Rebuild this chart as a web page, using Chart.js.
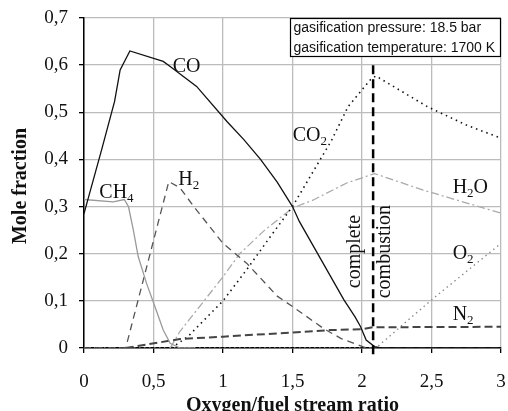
<!DOCTYPE html>
<html>
<head>
<meta charset="utf-8">
<script src="https://cdn.jsdelivr.net/npm/chart.js@4/dist/chart.umd.min.js"></script>
<style>
  html, body { margin: 0; padding: 0; background: #fff; }
</style>
</head>
<body>
<canvas id="myChart" width="508" height="411"></canvas>
<script>
// x = oxygen/fuel stream ratio, y = mole fraction
const coX = [0, 0.13, 0.22, 0.26, 0.33, 0.57, 0.62, 0.81, 1.03, 1.15, 1.27, 1.39, 1.5, 1.55, 1.87, 1.95, 1.99, 2.03, 2.09, 2.14, 3];
const coY = [0.285, 0.424, 0.523, 0.59, 0.63, 0.608, 0.597, 0.555, 0.48, 0.442, 0.40, 0.352, 0.30, 0.268, 0.102, 0.066, 0.045, 0.017, 0.003, 0, 0];

const ch4X = [0, 0.21, 0.29, 0.32, 0.355, 0.39, 0.45, 0.51, 0.57, 0.62, 0.69, 0.8];
const ch4Y = [0.315, 0.31, 0.315, 0.30, 0.25, 0.194, 0.137, 0.088, 0.038, 0.01, 0, 0];

const h2X = [0, 0.3, 0.61, 0.69, 0.79, 1.0, 1.17, 1.39, 1.5, 1.72, 1.85, 2.03, 3];
const h2Y = [0, 0, 0.353, 0.34, 0.30, 0.222, 0.18, 0.11, 0.088, 0.042, 0.02, 0, 0];

const n2X = [0.3, 0.69, 1.0, 1.5, 1.77, 2.0, 2.08, 3];
const n2Y = [0, 0.019, 0.024, 0.033, 0.038, 0.04, 0.044, 0.045];

const co2X = [0.63, 0.75, 0.85, 1.0, 1.17, 1.34, 1.5, 1.78, 1.9, 2.06, 2.1, 2.47, 2.75, 3];
const co2Y = [0, 0.025, 0.055, 0.10, 0.166, 0.236, 0.30, 0.44, 0.512, 0.569, 0.577, 0.512, 0.473, 0.445];

const h2oX = [0.62, 0.69, 1.0, 1.12, 1.3, 1.5, 1.65, 1.89, 2.09, 2.44, 3];
const h2oY = [0, 0.035, 0.151, 0.20, 0.25, 0.297, 0.314, 0.35, 0.37, 0.335, 0.286];

const o2X = [0, 2.1, 2.5, 2.75, 3];
const o2Y = [0, 0, 0.102, 0.162, 0.222];

// complete combustion marker
const combX = [2.08, 2.08];
const combY = [0.6, -0.018];

// tick values
const xTicks = [0, 0.5, 1, 1.5, 2, 2.5, 3];
const yTicks = [0, 0.1, 0.2, 0.3, 0.4, 0.5, 0.6, 0.7];

function pts(xs, ys) {
  return xs.map((x, i) => ({ x: x, y: ys[i] }));
}

function comma(v) {
  return String(Math.round(v * 10) / 10).replace(".", ",");
}

const serif = "'Liberation Serif', 'Times New Roman', serif";
const sans = "'Liberation Sans', Arial, sans-serif";

// curve labels: [main, subscript, tail, x, y]
const curveLabels = [
  ["CO", "", "", 0.638, 0.600],
  ["CH", "4", "", 0.110, 0.333],
  ["H", "2", "", 0.678, 0.361],
  ["CO", "2", "", 1.501, 0.455],
  ["H", "2", "O", 2.652, 0.344],
  ["O", "2", "", 2.652, 0.204],
  ["N", "2", "", 2.652, 0.074],
];

const textPlugin = {
  id: "texts",
  afterDraw(chart) {
    const c = chart.ctx;
    const xs = chart.scales.x;
    const ys = chart.scales.y;
    const area = chart.chartArea;
    c.save();
    c.fillStyle = "#111";
    c.textAlign = "left";
    c.textBaseline = "alphabetic";

    curveLabels.forEach(([a, sub, tail, x, y]) => {
      let px = xs.getPixelForValue(x);
      const py = ys.getPixelForValue(y) + 7;
      c.font = "20px " + serif;
      c.fillText(a, px, py);
      px += c.measureText(a).width;
      if (sub) {
        c.font = "13px " + serif;
        c.fillText(sub, px, py + 4);
        px += c.measureText(sub).width;
      }
      if (tail) {
        c.font = "20px " + serif;
        c.fillText(tail, px, py);
      }
    });

    // rotated notes beside the combustion line
    const cy = ys.getPixelForValue(0.2045);
    c.font = "20px " + serif;
    c.textAlign = "center";
    c.save();
    c.translate(xs.getPixelForValue(2.08) - 13, cy);
    c.rotate(-Math.PI / 2);
    c.fillText("complete", 0, 0);
    c.restore();
    c.save();
    c.translate(xs.getPixelForValue(2.08) + 17, cy);
    c.rotate(-Math.PI / 2);
    c.fillText("combustion", 0, 0);
    c.restore();

    // axis titles
    c.font = "bold 20px " + serif;
    c.fillText("Oxygen/fuel stream ratio", (area.left + area.right) / 2, 411);
    c.save();
    c.translate(26, 186);
    c.rotate(-Math.PI / 2);
    c.fillText("Mole fraction", 0, 0);
    c.restore();

    // conditions box
    const bw = 211, bh = 39;
    const bx = area.right - bw, by = area.top;
    c.fillStyle = "#fff";
    c.fillRect(bx, by, bw, bh);
    c.strokeStyle = "#000";
    c.lineWidth = 1.2;
    c.strokeRect(bx + 0.5, by + 0.5, bw - 1, bh - 1);
    c.fillStyle = "#111";
    c.textAlign = "left";
    c.font = "14px " + sans;
    c.fillText("gasification pressure: 18.5 bar", bx + 3.5, by + 14);
    c.fillText("gasification temperature: 1700 K", bx + 3.5, by + 34);
    c.restore();
  },
};

const ctx = document.getElementById("myChart").getContext("2d");

const line = (data, color, width, dash) => ({
  data: data,
  borderColor: color,
  borderWidth: width,
  borderDash: dash,
  showLine: true,
  fill: false,
  pointRadius: 0,
  tension: 0,
});

const myChart = new Chart(ctx, {
  type: "scatter",
  data: {
    datasets: [
      Object.assign(line(pts(combX, combY), "#000", 2.5, [9, 5]), { clip: false }),
      line(pts(coX, coY), "#111", 1.3, []),
      line(pts(ch4X, ch4Y), "#9a9a9a", 1.3, []),
      line(pts(h2X, h2Y), "#555", 1.3, [7, 5]),
      line(pts(n2X, n2Y), "#444", 2, [8, 4]),
      line(pts(co2X, co2Y), "#111", 1.6, [1.5, 4]),
      line(pts(h2oX, h2oY), "#aaa", 1.3, [8, 3, 2, 3]),
      line(pts(o2X, o2Y), "#888", 1.3, [1.5, 3.5]),
    ],
  },
  options: {
    responsive: false,
    animation: false,
    layout: { padding: { left: 0, right: 7, top: 18, bottom: 0 } },
    plugins: {
      legend: { display: false },
      tooltip: { enabled: false },
    },
    scales: {
      x: {
        type: "linear",
        min: 0,
        max: 3,
        afterBuildTicks: (s) => { s.ticks = xTicks.map((v) => ({ value: v })); },
        afterFit: (s) => { s.height = 63; s.paddingLeft = 0; s.paddingRight = 0; },
        grid: { color: "#bcbcbc", lineWidth: 1.3, tickColor: "#000", tickLength: 5 },
        border: { color: "#000", width: 1.5 },
        ticks: {
          padding: 18,
          color: "#111",
          font: { family: serif, size: 19 },
          callback: (v) => comma(v),
        },
      },
      y: {
        type: "linear",
        min: 0,
        max: 0.7,
        afterBuildTicks: (s) => { s.ticks = yTicks.map((v) => ({ value: v })); },
        afterFit: (s) => { s.width = 84; s.paddingTop = 0; s.paddingBottom = 0; },
        grid: { color: "#bcbcbc", lineWidth: 1.3, tickColor: "#000", tickLength: 5 },
        border: { color: "#000", width: 1.5 },
        ticks: {
          padding: 11,
          color: "#111",
          font: { family: serif, size: 19 },
          callback: (v) => comma(v),
        },
      },
    },
  },
  plugins: [textPlugin],
});
</script>
</body>
</html>
